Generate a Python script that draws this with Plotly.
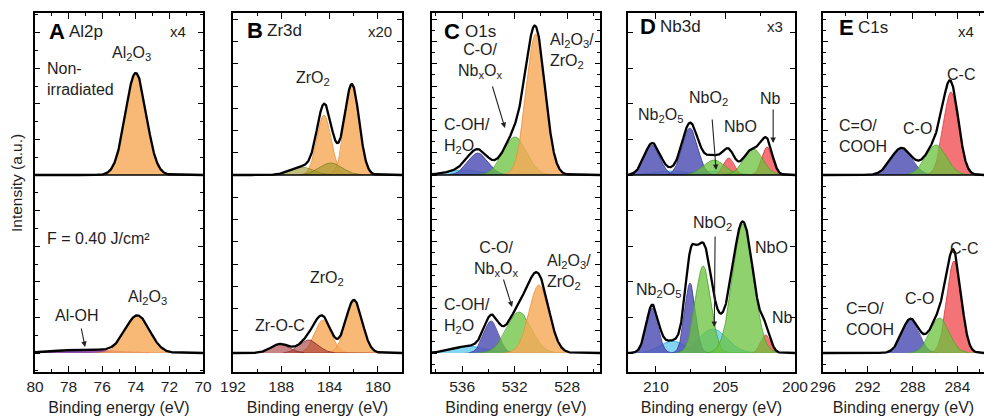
import numpy as np
import plotly.graph_objects as go

# ---------------- data (peak-fit components) ----------------
# heights in a.u. above each spectrum's own baseline; top spectrum = non-irradiated
OFFSET = 178  # vertical offset of the non-irradiated spectrum

# A  Al2p
A_top_species = ["Al2O3"]
A_top_center = [74.0]
A_top_height = [102]
A_top_fwhm = [1.45]
A_bot_species = ["Al-OH", "Al2O3"]
A_bot_center = [77.0, 73.9]
A_bot_height = [3.5, 37]
A_bot_fwhm = [4.0, 1.7]

# B  Zr3d
B_top_species = ["ZrO2", "ZrO2", "ZrOx", "ZrOx"]
B_top_center = [184.46, 182.14, 186.3, 183.9]
B_top_height = [60, 89, 8, 12]
B_top_fwhm = [1.4, 1.4, 2.2, 2.2]
B_bot_species = ["ZrO2", "ZrO2", "Zr-O-C", "Zr-O-C"]
B_bot_center = [184.54, 181.98, 185.7, 188.1]
B_bot_height = [33, 53, 13, 9]
B_bot_fwhm = [1.6, 1.6, 1.8, 1.8]

# C  O1s
C_top_species = ["H2O-ads", "C-OH/H2O", "C-O/NbxOx", "Al2O3/ZrO2"]
C_top_center = [535.8, 534.8, 531.98, 530.4]
C_top_height = [5, 22, 38, 141]
C_top_fwhm = [3.0, 1.8, 2.1, 1.7]
C_bot_species = ["H2O-ads", "C-OH/H2O", "C-O/NbxOx", "Al2O3/ZrO2"]
C_bot_center = [535.4, 533.8, 531.67, 530.15]
C_bot_height = [7, 32, 41, 68]
C_bot_fwhm = [3.0, 1.3, 2.2, 1.8]

# D  Nb3d
D_top_species = ["NbO2", "NbO2", "Nb2O5", "Nb2O5", "Nb", "Nb", "NbO", "NbO"]
D_top_center = [208.8, 205.9, 210.27, 207.55, 204.75, 202.0, 205.8, 203.0]
D_top_height = [4, 4, 30, 47, 17, 28, 15, 26]
D_top_fwhm = [3.0, 3.0, 1.3, 1.3, 0.9, 0.9, 1.8, 1.6]
D_bot_species = ["NbO2", "NbO2", "Nb2O5", "Nb2O5", "Nb", "NbO", "NbO"]
D_bot_center = [208.76, 205.9, 210.27, 207.54, 202.1, 206.6, 203.73]
D_bot_height = [12, 24, 45, 70, 18, 87, 129]
D_bot_fwhm = [2.2, 2.4, 1.0, 0.9, 0.8, 1.3, 1.75]

# E  C1s
E_top_species = ["C=O/COOH", "C-C", "C-O"]
E_top_center = [289.0, 284.57, 285.9]
E_top_height = [27, 83, 30]
E_top_fwhm = [2.2, 1.6, 2.2]
E_bot_species = ["C=O/COOH", "C-C", "C-O"]
E_bot_center = [288.2, 284.3, 285.6]
E_bot_height = [34, 92, 35]
E_bot_fwhm = [1.8, 1.5, 2.0]

# ---------------- styles ----------------
ORANGE = ("rgba(247,168,88,0.82)", "rgb(235,145,60)")
BLUE = ("rgba(82,82,182,0.85)", "rgb(60,60,150)")
GREEN = ("rgba(105,195,60,0.75)", "rgb(75,165,40)")
RED = ("rgba(240,80,85,0.80)", "rgb(215,50,60)")
CYAN = ("rgba(80,195,235,0.70)", "rgb(40,170,215)")
OLIVE = ("rgba(155,150,40,0.60)", "rgb(130,125,30)")
DARKRED = ("rgba(160,50,50,0.60)", "rgb(140,40,40)")
PURPLE = ("rgba(120,50,150,0.85)", "rgb(210,50,130)")
STYLE = {
    "Al2O3": ORANGE, "Al-OH": PURPLE, "ZrO2": ORANGE, "ZrOx": OLIVE, "Zr-O-C": DARKRED,
    "H2O-ads": CYAN, "C-OH/H2O": BLUE, "C-O/NbxOx": GREEN, "Al2O3/ZrO2": ORANGE,
    "NbO2": CYAN, "Nb2O5": BLUE, "Nb": RED, "NbO": GREEN,
    "C=O/COOH": BLUE, "C-C": RED, "C-O": GREEN,
}
FONT = "Liberation Sans, Arial, sans-serif"
TXT = "#1e1e1e"
W, H = 984, 416
ML, MB, MT = 0, 44, 13

PANELS = [
    dict(letter="A", name="Al2p", factor="x4", rng=[80, 70], px=(35, 203), dtick=2, tick0=70, minor=1,
         ydt=35.6, yminor=17.8,
         top=(A_top_species, A_top_center, A_top_height, A_top_fwhm),
         bot=(A_bot_species, A_bot_center, A_bot_height, A_bot_fwhm)),
    dict(letter="B", name="Zr3d", factor="x20", rng=[192, 178], px=(233, 402), dtick=4, tick0=180, minor=2,
         ydt=22.25, yminor=None,
         top=(B_top_species, B_top_center, B_top_height, B_top_fwhm),
         bot=(B_bot_species, B_bot_center, B_bot_height, B_bot_fwhm)),
    dict(letter="C", name="O1s", factor=None, rng=[538.3, 525.5], px=(432, 600), dtick=4, tick0=528, minor=2,
         ydt=22.25, yminor=11.125,
         top=(C_top_species, C_top_center, C_top_height, C_top_fwhm),
         bot=(C_bot_species, C_bot_center, C_bot_height, C_bot_fwhm)),
    dict(letter="D", name="Nb3d", factor="x3", rng=[212, 200], px=(628, 795), dtick=5, tick0=200, minor=2.5,
         ydt=35.6, yminor=None,
         top=(D_top_species, D_top_center, D_top_height, D_top_fwhm),
         bot=(D_bot_species, D_bot_center, D_bot_height, D_bot_fwhm)),
    dict(letter="E", name="C1s", factor="x4", rng=[296, 296 - (984 - 823) / 11.2], px=(823, 984), dtick=4,
         tick0=284, minor=2, ydt=44.5, yminor=11.125,
         top=(E_top_species, E_top_center, E_top_height, E_top_fwhm),
         bot=(E_bot_species, E_bot_center, E_bot_height, E_bot_fwhm)),
]

# label placement (data coordinates of each panel)
LABELS = {
    "A": dict(title=(79.3, 78.1, 322), fac=(70.89, 322), texts=[
        ("Al<sub>2</sub>O<sub>3</sub>", 74.23, 300, "center"),
        ("Non-<br>irradiated", 79.4, 274, "left"),
        ("F = 0.40 J/cm²", 79.4, 115, "left"),
        ("Al<sub>2</sub>O<sub>3</sub>", 73.33, 56, "center"),
        ("Al-OH", 77.5, 38, "center")],
        arrows=[(77.26, 26, 77.02, 6)]),
    "B": dict(title=(191.0, 189.35, 323), fac=(178.66, 322), texts=[
        ("ZrO<sub>2</sub>", 185.37, 275, "center"),
        ("ZrO<sub>2</sub>", 184.21, 75, "center"),
        ("Zr-O-C", 188.1, 28, "center")],
        arrows=[]),
    "C": dict(title=(537.54, 535.94, 322), fac=None, texts=[
        ("C-O/<br>Nb<sub>x</sub>O<sub>x</sub>", 534.64, 292, "center"),
        ("C-OH/<br>H<sub>2</sub>O", 537.54, 217.5, "left"),
        ("Al<sub>2</sub>O<sub>3</sub>/<br>ZrO<sub>2</sub>", 529.46, 302.5, "left"),
        ("C-O/<br>Nb<sub>x</sub>O<sub>x</sub>", 533.35, 94, "center"),
        ("Al<sub>2</sub>O<sub>3</sub>/<br>ZrO<sub>2</sub>", 529.69, 81, "left"),
        ("C-OH/<br>H<sub>2</sub>O", 537.54, 37, "left")],
        arrows=[(533.73, 268, 532.74, 225), (532.89, 75, 532.2, 46)]),
    "D": dict(title=(211.28, 209.84, 327), fac=(200.72, 327), texts=[
        ("Nb<sub>2</sub>O<sub>5</sub>", 209.7, 238, "center"),
        ("NbO<sub>2</sub>", 206.24, 255, "center"),
        ("NbO", 203.94, 227, "center"),
        ("Nb", 201.78, 255, "center"),
        ("Nb<sub>2</sub>O<sub>5</sub>", 211.6, 63, "left"),
        ("NbO<sub>2</sub>", 205.96, 130, "center"),
        ("NbO", 203.0, 106, "left"),
        ("Nb", 201.78, 36, "left")],
        arrows=[(205.96, 235, 205.67, 183), (201.57, 245, 201.57, 210), (205.74, 118, 205.8, 26)]),
    "E": dict(title=(294.75, 293.05, 326), fac=(282.34, 322), texts=[
        ("C-C", 283.68, 279, "center"),
        ("C-O", 287.6, 225, "center"),
        ("C=O/<br>COOH", 294.75, 217, "left"),
        ("C-C", 283.4, 105, "center"),
        ("C-O", 287.34, 55, "center"),
        ("C=O/<br>COOH", 294.125, 34, "left")],
        arrows=[]),
}


def gauss(x, c, h, fwhm):
    return h * np.exp(-4 * np.log(2) * ((x - c) / fwhm) ** 2)


fig = go.Figure()
annotations = []
shapes = []
layout = {}

for i, p in enumerate(PANELS):
    k = "" if i == 0 else str(i + 1)
    xa, ya = "x" + k, "y" + k
    lo, hi = min(p["rng"]), max(p["rng"])
    xg = np.linspace(lo, hi, 800)
    for off, comp in ((OFFSET, p["top"]), (0, p["bot"])):
        species, cen, hgt, fw = comp
        total = np.zeros_like(xg)
        for s, c, h, f in zip(species, cen, hgt, fw):
            g = gauss(xg, c, h, f)
            total += g
            fill, edge = STYLE[s]
            fig.add_trace(go.Scatter(
                x=np.r_[xg, xg[::-1]], y=np.r_[off + g, np.full_like(xg, off)],
                fill="toself", fillcolor=fill, line=dict(width=0), mode="lines",
                hoverinfo="skip", showlegend=False, xaxis=xa, yaxis=ya))
            yy = np.where(g > 0.3, off + g, np.nan)
            fig.add_trace(go.Scatter(x=xg, y=yy, mode="lines", line=dict(color=edge, width=0.8),
                                     hoverinfo="skip", showlegend=False, xaxis=xa, yaxis=ya))
        fig.add_trace(go.Scatter(x=xg, y=off + total, mode="lines",
                                 line=dict(color="black", width=2.3),
                                 hoverinfo="skip", showlegend=False, xaxis=xa, yaxis=ya))
    # divider between the two spectra
    shapes.append(dict(type="line", xref=xa + " domain", yref=ya, x0=0, x1=1, y0=OFFSET, y1=OFFSET,
                       line=dict(color="black", width=1.5), layer="above"))

    x0p, x1p = p["px"]
    xaxis = dict(domain=[x0p / W, x1p / W], range=p["rng"], anchor=ya, automargin=False, showline=True,
                 linecolor="black", linewidth=1.5, mirror="ticks", ticks="inside", ticklen=6, tickwidth=1.2,
                 tickcolor="black", tick0=p["tick0"], dtick=p["dtick"], showgrid=False, zeroline=False,
                 minor=dict(dtick=p["minor"], tick0=p["tick0"], ticks="inside", ticklen=3.5,
                            tickwidth=1, tickcolor="black", showgrid=False),
                 tickfont=dict(family=FONT, size=15.5, color=TXT),
                 title=dict(text="Binding energy (eV)", font=dict(family=FONT, size=16, color=TXT), standoff=8))
    yaxis = dict(domain=[0, 1], range=[-19, 340], anchor=xa, automargin=False, showline=True,
                 linecolor="black", linewidth=1.5,
                 mirror=("ticks" if p["letter"] != "E" else False), ticks="inside", ticklen=5, tickwidth=1,
                 tickcolor="black", tick0=0, dtick=p["ydt"], showticklabels=False, showgrid=False,
                 zeroline=False)
    if p["yminor"]:
        yaxis["minor"] = dict(dtick=p["yminor"], tick0=0, ticks="inside", ticklen=3, tickwidth=1,
                              tickcolor="black", showgrid=False)
    layout["xaxis" + k] = xaxis
    layout["yaxis" + k] = yaxis

    lab = LABELS[p["letter"]]
    tx1, tx2, ty = lab["title"]
    annotations.append(dict(x=tx1, y=ty, xref=xa, yref=ya, text="<b>%s</b>" % p["letter"], showarrow=False,
                            xanchor="left", yanchor="middle", font=dict(family=FONT, size=22, color="black")))
    annotations.append(dict(x=tx2, y=ty, xref=xa, yref=ya, text=p["name"], showarrow=False,
                            xanchor="left", yanchor="middle", font=dict(family=FONT, size=17, color=TXT)))
    if p["factor"] and lab["fac"]:
        fx, fy = lab["fac"]
        annotations.append(dict(x=fx, y=fy, xref=xa, yref=ya, text=p["factor"], showarrow=False,
                                xanchor="right", yanchor="middle", font=dict(family=FONT, size=15, color=TXT)))
    for text, x, y, al in lab["texts"]:
        annotations.append(dict(x=x, y=y, xref=xa, yref=ya, text=text, showarrow=False, xanchor=al,
                                align=al, yanchor="middle", font=dict(family=FONT, size=16, color=TXT)))
    for tx, ty2, hx, hy in lab["arrows"]:
        annotations.append(dict(x=hx, y=hy, ax=tx, ay=ty2, xref=xa, yref=ya, axref=xa, ayref=ya, text="",
                                showarrow=True, arrowhead=2, arrowsize=1, arrowwidth=1.1, arrowcolor="#222"))

annotations.append(dict(x=17 / W, y=(H - MB - 183) / (H - MB - MT), xref="paper", yref="paper",
                        text="Intensity (a.u.)", textangle=-90, showarrow=False, xanchor="center",
                        yanchor="middle", font=dict(family=FONT, size=15.5, color=TXT)))

fig.update_layout(width=W, height=H, margin=dict(l=ML, r=0, t=MT, b=MB, pad=0, autoexpand=False),
                  paper_bgcolor="white", plot_bgcolor="white", showlegend=False,
                  annotations=annotations, shapes=shapes, **layout)
fig.write_html("out.html")
